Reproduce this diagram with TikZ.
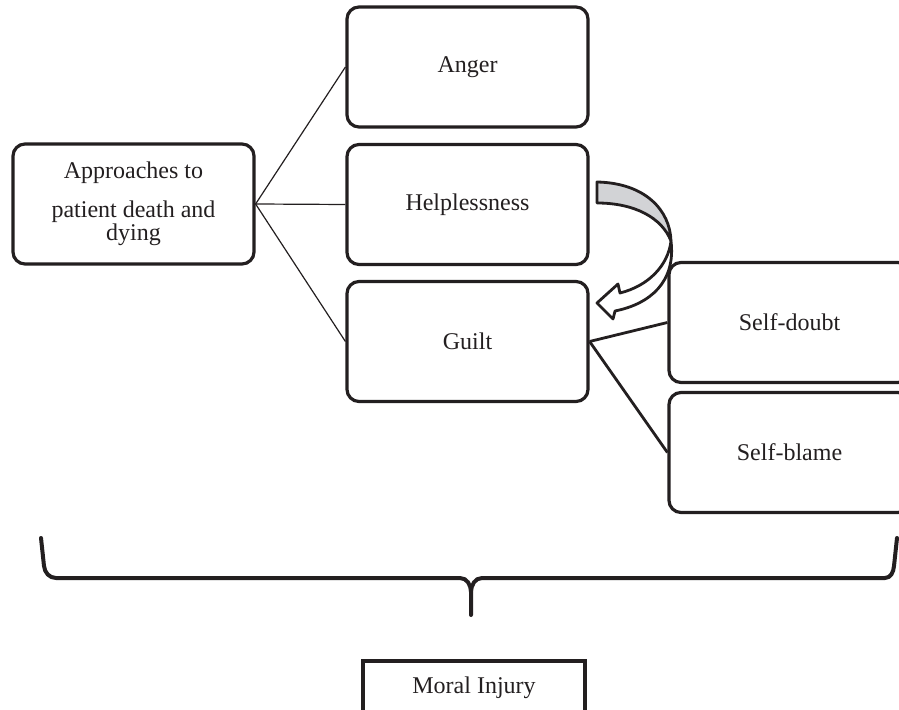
\documentclass[tikz,border=0pt]{standalone}
\usepackage{fontspec}
\setmainfont{Liberation Serif}
\definecolor{ink}{RGB}{35,31,32}
\definecolor{ribbon}{RGB}{210,211,214}

\begin{document}
\begin{tikzpicture}[x=0.5pt,y=-0.5pt,
  box/.style={draw=ink,text=ink,line width=1.6pt,rounded corners=6pt,minimum width=120.5pt,minimum height=60pt,align=center,font=\fontsize{12}{11.5}\selectfont},
  link/.style={draw=ink,line width=0.6pt},
  heavylink/.style={draw=ink,line width=1.4pt}]
\useasboundingbox (0,0) rectangle (899,710);
\clip (0,0) rectangle (899,710);
%boxes
\node[box] (approach) at (133.5,204) {Approaches to\\[8pt]patient death and\\dying};
\node[box] (anger) at (467.5,67) {Anger};
\node[box] (helpless) at (467.5,204.5) {Helplessness};
\node[box] (guilt) at (467.5,341.5) {Guilt};
\node[box] (doubt) at (789.5,322.5) {Self-doubt};
\node[box] (blame) at (789.5,452.5) {Self-blame};
\node[box,rounded corners=0pt,minimum width=111pt,minimum height=27pt] (moral) at (474,688) {Moral Injury};
%
\draw[link] (approach.east) -- (anger.west);
\draw[link] (approach.east) -- (helpless.west);
\draw[link] (approach.east) -- (guilt.west);
\draw[heavylink] (guilt.east) -- (doubt.west);
\draw[heavylink] (guilt.east) -- (blame.west);
%curved arrow
\filldraw[draw=ink,fill=ribbon,line width=1.4pt,line join=round] (597,182) .. controls (645,183) and (670,210) .. (671,241) .. controls (662,218) and (635,203) .. (597,203) -- cycle;
\filldraw[draw=ink,fill=white,line width=1.4pt,line join=round] (671,241) .. controls (676,282) and (650,304) .. (615,311) -- (613,319) -- (597,303) -- (618,284) -- (620,293) .. controls (648,286) and (668,266) .. (671,241) -- cycle;
%brace
\draw[ink,line width=2pt,line cap=round,line join=round] (41,538) -- (44,566) to[out=-85,in=180] (56,578) -- (460,578) to[out=0,in=90] (471,592) -- (471,615);
\draw[ink,line width=2pt,line cap=round,line join=round] (471,592) to[out=90,in=180] (482,578) -- (885,578) to[out=0,in=-95] (894,566) -- (897,538);
\end{tikzpicture}
\end{document}
